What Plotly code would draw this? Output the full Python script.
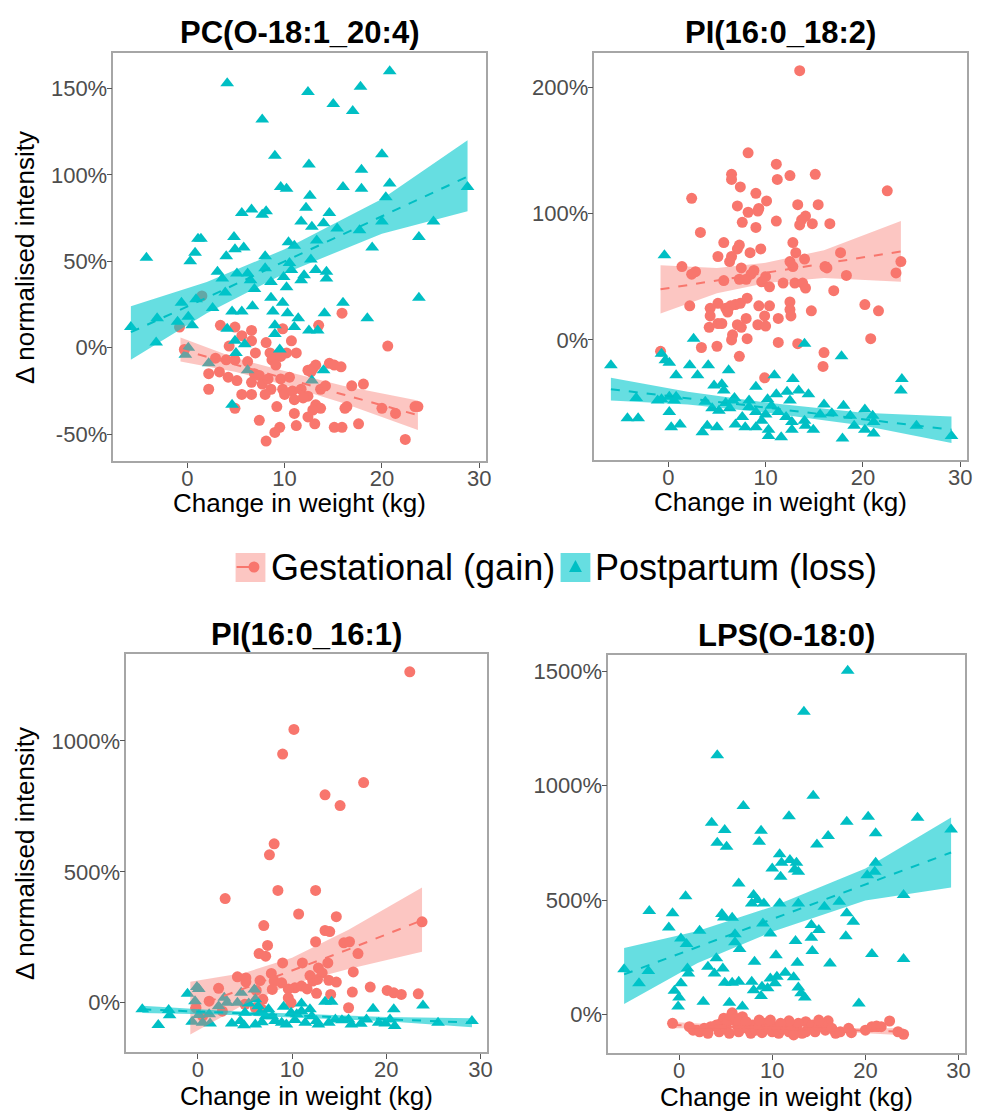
import plotly.graph_objects as go

FONT = "Liberation Sans, Arial, sans-serif"
PINK = "#F8766D"
TEAL = "#00BFC4"
PINK_BAND = "rgba(248,118,109,0.42)"
TEAL_BAND = "rgba(0,200,205,0.60)"

titles = ["PC(O-18:1_20:4)", "PI(16:0_18:2)", "PI(16:0_16:1)", "LPS(O-18:0)"]
legend_labels = ["Gestational (gain)", "Postpartum (loss)"]
x_title = "Change in weight (kg)"
y_title = "\u0394 normalised intensity"
x_ticks = [0, 10, 20, 30]
y_ticks = [[-50, 0, 50, 100, 150], [0, 100, 200], [0, 500, 1000], [0, 500, 1000, 1500]]
y_ranges = [[-65.5, 170.5], [-95, 227], [-188, 1332], [-169, 1572]]
x_range = [-7.6, 30.7]

# ---------------- Panel 1: PC(O-18:1_20:4) ----------------
p1_gest = [(15.9,20),(13.5,13),(20.6,1),(3.4,13),(4.9,12),(6.6,10),(9.8,11),(5.6,7),(6.6,4),(8.1,3),
           (4.3,1),(10.7,4),(7.0,-3),(8.5,-3),(9.4,-4),(10.2,-3),(11.2,-3),(-0.3,-1),(2.9,-6),(4.0,-7),
           (4.9,-7),(6.2,-8),(8.7,-7),(9.6,-5),(9.1,-10),(2.2,-15),(3.3,-14),(4.2,-17),(5.1,-19),(2.2,-24),
           (5.6,-27),(6.6,-27),(6.9,-15),(6.6,-20),(7.4,-16),(7.7,-21),(8.3,-18),(8.6,-24),(9.6,-18),(9.8,-24),
           (10.0,-27),(10.5,-17),(10.8,-25),(11.7,-24),(12.4,-28),(11.0,-30),(11.9,-29),(12.4,-13),(12.9,-12),
           (13.2,-10),(12.7,-14),(13.7,-24),(14.6,-9),(15.1,-10),(15.8,-11),(14.2,-22),(16.9,-22),(18.1,-21),
           (13.2,-33),(13.7,-35),(12.9,-36),(16.4,-34),(16.2,-35),(20.0,-35),(21.4,-38),(23.4,-34),(23.7,-34),
           (8.0,-27),(9.2,-34),(11.0,-38),(12.4,-40),(13.1,-44),(11.2,-45),(9.5,-46),(9.0,-49),(7.4,-42),
           (8.1,-54),(15.1,-46),(15.9,-46),(17.6,-44),(22.4,-53),(4.9,-35),(1.5,30),(-0.8,12)]
p1_post = [(20.8,160),(4.1,153),(12.4,148),(17.8,151),(15.0,141),(17.0,137),(7.7,132),(9.0,111),(12.5,106),
           (20.0,112),(17.9,103),(20.8,95),(9.6,93),(10.2,92),(12.6,88),(16.0,93),(17.9,92),(28.8,93),(20.4,87),
           (12.2,81),(5.6,78),(6.6,80),(7.7,77),(8.1,79),(14.6,78),(11.7,73),(12.8,70),(14.0,72),(15.4,69),
           (17.7,68),(20.0,73),(25.3,73),(23.8,64),(19.0,58),(1.1,63),(1.4,63),(4.8,64),(4.9,57),(5.8,58),
           (10.4,61),(11.0,59),(13.3,62),(0.8,55),(0.3,50),(-4.2,52),(4.0,53),(8.0,53),(12.7,51),(10.5,49),
           (3.1,44),(3.6,40),(5.1,43),(6.2,43),(6.5,39),(8.0,46),(10.7,45),(9.9,41),(12.0,42),(11.7,39),
           (13.2,45),(14.3,44),(14.3,40),(6.9,34),(8.6,38),(10.2,35),(3.9,32),(0.9,28),(-0.6,26),(2.6,23),
           (6.7,24),(8.6,29),(9.8,26),(16.0,26),(23.8,29),(4.6,21),(5.6,21),(8.8,21),(10.3,20),(11.4,17),
           (14.1,20),(18.5,17),(-3.1,17),(-1.0,15),(0.1,18),(0.5,13),(-5.8,12),(9.0,13),(4.1,11),(11.0,12),
           (12.5,10),(13.4,10),(9.0,8),(-3.2,3),(4.9,4),(5.9,2),(5.0,-3),(9.5,-1),(0.1,0),(-0.2,-4),(2.2,-9),
           (6.2,-13),(14.0,-13),(12.8,-19),(4.6,-33)]
p1_gest_fit_x = [-0.7, 5, 10, 16, 23.7]
p1_gest_fit_y = [-1, -10, -17.5, -27, -39]
p1_gest_lo = [-8, -14, -21.5, -32, -47.5]
p1_gest_hi = [6, -6, -13.5, -22, -30.5]
p1_post_fit_x = [-5.8, 2, 10, 20, 28.8]
p1_post_fit_y = [9, 29, 50, 76, 99]
p1_post_lo = [-7, 20, 43, 66, 79]
p1_post_hi = [24, 38, 57, 86, 120]

# ---------------- Panel 2: PI(16:0_18:2) ----------------
p2_gest = [(13.5,213),(8.2,148),(11.1,139),(12.5,130),(15.1,131),(6.5,131),(6.5,127),(11.2,127),(7.4,121),
           (22.5,118),(2.4,112),(9.0,116),(10.1,110),(7.1,106),(9.3,104),(8.2,101),(9.2,102),(13.3,107),
           (15.4,107),(14.1,98),(13.7,95),(13.5,91),(14.8,92),(16.6,92),(7.6,93),(9.0,89),(11.1,94),(3.3,85),
           (5.7,77),(7.3,75),(7.1,72),(9.5,72),(8.4,69),(12.8,77),(13.1,69),(17.7,69),(5.1,66),(6.5,66),
           (6.3,62),(14.0,64),(12.5,62),(12.8,58),(1.4,58),(2.8,54),(2.4,52),(7.5,57),(8.8,55),(8.5,52),
           (8.0,48),(10.0,50),(9.6,46),(10.4,42),(11.8,45),(13.0,45),(13.8,45),(14.1,41),(16.1,58),(16.3,57),
           (18.3,51),(23.9,62),(23.4,53),(5.7,47),(7.3,48),(17.0,39),(2.2,27),(5.1,29),(4.3,25),(5.9,25),
           (6.4,27),(6.9,28),(7.4,29),(6.1,22),(8.1,33),(8.0,17),(9.3,27),(10.4,27),(9.9,19),(12.5,30),
           (12.5,24),(12.6,19),(11.3,17),(14.7,23),(20.2,28),(21.6,23),(4.3,19),(5.1,13),(5.5,13),(7.1,12),
           (7.5,10),(9.2,12),(10.0,11),(4.2,10),(6.6,4),(6.5,0),(8.1,1),(11.3,-2),(13.3,-3),(3.4,-6),(5.0,-5),
           (7.3,-13),(20.8,1),(16.0,-10),(15.9,-21),(-0.8,-9),(9.9,-30)]
p2_post = [(-0.4,67),(2.6,1),(14.0,-3),(17.8,-13),(-5.9,-20),(-0.7,-11),(-0.3,-16),(0.1,-18),(2.2,-20),
           (4.1,-20),(6.2,-24),(0.8,-28),(3.0,-28),(10.9,-28),(12.8,-31),(24.0,-31),(23.9,-40),(4.7,-36),
           (5.5,-35),(5.7,-40),(9.0,-37),(-3.3,-46),(-1.1,-48),(-0.7,-47),(0.1,-45),(0.8,-45),(0.6,-48),
           (0.1,-57),(1.2,-67),(0.3,-69),(-4.2,-62),(-3.1,-62),(3.5,-73),(4.0,-68),(5.0,-69),(3.8,-49),
           (4.5,-54),(5.2,-56),(5.9,-50),(6.3,-54),(6.6,-48),(6.8,-46),(7.6,-61),(6.9,-67),(7.9,-69),(8.3,-53),
           (8.3,-48),(9.0,-57),(9.0,-69),(9.6,-64),(10.0,-59),(10.2,-47),(10.6,-52),(10.3,-71),(10.3,-76),
           (11.1,-43),(11.3,-57),(11.6,-77),(12.2,-41),(12.5,-48),(12.7,-65),(13.4,-40),(14.4,-43),(12.7,-71),
           (14.0,-64),(14.1,-68),(14.9,-71),(15.6,-59),(16.0,-51),(16.8,-58),(18.0,-52),(18.7,-60),(19.1,-68),
           (17.9,-78),(20.2,-55),(21.0,-60),(21.1,-65),(20.2,-71),(21.1,-74),(25.5,-68),(29.1,-76),(12.1,-61)]
p2_gest_fit_x = [-0.8, 5, 10, 16, 23.9]
p2_gest_fit_y = [40, 47, 53, 60, 70]
p2_gest_lo = [21, 37, 45, 49, 46]
p2_gest_hi = [59, 57, 61, 71, 94]
p2_post_fit_x = [-5.9, 2, 10, 20, 29.1]
p2_post_fit_y = [-39, -46, -53.5, -62.7, -71]
p2_post_lo = [-48, -51, -57.5, -67.7, -81.5]
p2_post_hi = [-30, -41, -49.5, -57.7, -60.5]

# ---------------- Panel 3: PI(16:0_16:1) ----------------
p3_gest = [(22.5,1264),(10.2,1044),(9.0,950),(17.6,841),(13.5,794),(15.1,753),(8.1,607),(7.6,565),(2.9,398),
           (8.5,429),(12.5,429),(10.7,339),(14.7,329),(7.0,295),(13.5,276),(14.0,272),(12.5,233),(15.5,229),
           (16.1,233),(23.8,309),(7.4,219),(6.5,188),(7.2,178),(17.0,188),(9.0,152),(11.1,152),(13.8,152),
           (12.8,133),(13.2,114),(16.5,118),(7.8,112),(4.2,99),(5.1,95),(5.1,80),(6.6,85),(8.1,83),(8.9,76),
           (10.3,57),(11.0,64),(11.9,104),(12.2,83),(12.7,89),(13.9,86),(14.7,79),(2.2,55),(6.2,47),(7.9,51),
           (9.6,53),(11.6,53),(18.3,60),(20.1,47),(20.8,38),(21.6,32),(23.4,34),(16.4,41),(12.6,36),(14.1,32),
           (9.6,19),(9.9,0),(16.0,-19),(1.2,6),(6.9,13),(5.0,-6),(6.1,-19),(6.8,-25),(2.6,-32),(-0.2,-19),
           (0.5,-51)]
p3_post = [(-5.9,-25),(-4.2,-85),(-3.1,-28),(-3.0,-48),(-1.1,34),(-0.1,60),(0.1,53),(-0.3,6),(-0.6,-72),
           (0.1,-47),(0.5,-76),(1.3,-79),(1.2,-44),(2.2,-13),(2.8,19),(3.1,0),(3.6,-79),(4.2,0),(4.6,38),
           (5.0,-38),(5.4,-3),(6.0,51),(6.1,13),(6.4,-13),(6.6,-38),(7.2,-51),(7.9,-51),(4.9,-86),(6.1,-83),
           (6.8,-74),(8.2,-70),(9.1,-15),(9.4,-83),(9.9,-38),(10.3,-66),(11.0,-3),(11.0,-32),(11.4,-76),
           (12.1,-51),(12.6,-70),(13.5,4),(14.2,4),(14.6,-64),(15.3,-67),(16.0,-64),(17.3,-80),(17.9,-64),
           (18.6,-23),(19.2,-76),(20.4,-64),(20.8,-25),(20.9,-89),(23.9,-10),(25.5,-76),(29.1,-70),(4.5,-70),
           (7.5,-25),(8.9,-76),(10.5,-44),(12.8,-83),(13.9,-76),(16.3,-83),(19.9,-79),(11.9,-25)]
p3_gest_fit_x = [-0.8, 5, 10, 16, 23.8]
p3_gest_fit_y = [-22, 55, 122, 204, 315]
p3_gest_lo = [-121, -5, 72, 129, 195]
p3_gest_hi = [80, 115, 172, 279, 440]
p3_post_fit_x = [-5.9, 2, 10, 20, 29.1]
p3_post_fit_y = [-25, -36.5, -48.2, -62.8, -76]
p3_post_lo = [-39, -44.5, -55.2, -70.8, -93]
p3_post_hi = [-11, -28.5, -41.2, -54.8, -59]

# ---------------- Panel 4: LPS(O-18:0) ----------------
p4_gest = [(-0.7,-39),(5.7,7),(22.6,-29),(16.0,-28),(13.6,-32),(1.5,-69),(2.2,-76),(2.7,-61),(3.4,-54),
           (4.3,-76),(4.5,-39),(5.0,-61),(5.4,-83),(5.9,-25),(6.3,-54),(6.4,-76),(6.8,-10),(7.0,-39),(7.3,-61),
           (7.7,-83),(7.9,-47),(8.2,-69),(8.6,-54),(8.9,-80),(9.3,-39),(9.6,-61),(10.0,-76),(10.4,-54),
           (10.7,-83),(11.1,-61),(11.4,-47),(11.8,-76),(12.1,-54),(12.5,-69),(12.8,-39),(13.2,-83),(13.9,-61),
           (14.3,-47),(14.6,-76),(15.0,-54),(15.3,-39),(15.7,-69),(16.4,-61),(16.8,-83),(17.3,-76),(18.2,-61),
           (18.5,-80),(20.0,-69),(20.7,-54),(21.2,-51),(21.7,-54),(23.5,-76),(24.1,-87),(4.8,-17),(5.2,-32),
           (5.6,-7),(6.1,-17),(6.4,-32),(4.0,-47),(3.1,-83),(1.1,-54),(9.8,-25),(11.8,-28),(15.0,-25),
           (8.6,-25),(7.2,-32),(10.9,-39),(12.3,-90),(13.6,-76)]
p4_post = [(18.1,1503),(13.4,1324),(4.1,1134),(14.4,956),(6.9,911),(11.8,867),(3.5,838),(4.9,806),(4.1,751),
           (5.1,733),(8.8,803),(8.6,755),(18.0,843),(20.3,864),(21.1,792),(25.6,860),(29.2,809),(16.0,780),
           (14.8,743),(10.8,700),(11.0,663),(11.9,675),(12.6,663),(10.0,638),(10.9,602),(12.4,634),(12.8,624),
           (21.1,663),(20.2,609),(21.0,624),(6.4,573),(0.7,517),(-3.2,452),(-0.7,442),(-1.1,380),(8.0,522),
           (7.8,485),(8.4,500),(9.1,485),(10.8,485),(12.8,485),(15.6,471),(17.2,493),(24.1,522),(4.6,439),
           (4.8,424),(5.7,423),(18.0,442),(18.7,405),(14.2,391),(15.0,369),(2.2,366),(0.2,332),(0.8,308),
           (6.0,351),(6.0,315),(6.5,286),(9.8,354),(9.0,398),(12.5,321),(14.2,335),(14.3,277),(17.9,342),
           (20.7,264),(24.1,242),(10.4,259),(12.7,226),(16.2,223),(8.1,230),(4.0,245),(3.1,208),(4.7,201),
           (3.8,179),(0.9,201),(1.0,179),(-5.9,197),(-4.3,136),(-3.3,190),(0.2,136),(-0.5,103),(0.0,74),
           (-0.1,34),(4.9,138),(5.7,138),(6.4,143),(7.8,143),(8.0,106),(8.9,121),(9.5,114),(8.8,80),(9.8,157),
           (10.5,165),(11.4,182),(10.3,136),(12.3,162),(12.8,118),(13.1,92),(13.5,74),(6.8,34),(5.4,51),
           (2.6,55),(19.3,48)]
p4_gest_fit_x = [-0.7, 5, 10, 16, 24.1]
p4_gest_fit_y = [-47, -53.7, -59.5, -66.5, -76]
p4_gest_lo = [-61, -60.7, -65.5, -73.5, -91]
p4_gest_hi = [-33, -46.7, -53.5, -59.5, -61]
p4_post_fit_x = [-5.9, 2, 10, 20, 29.2]
p4_post_fit_y = [175, 295, 416, 568, 708]
p4_post_lo = [45, 225, 361, 498, 555]
p4_post_hi = [290, 365, 471, 638, 861]

panels = [
    (p1_gest, p1_post, (p1_gest_fit_x, p1_gest_fit_y, p1_gest_lo, p1_gest_hi),
     (p1_post_fit_x, p1_post_fit_y, p1_post_lo, p1_post_hi)),
    (p2_gest, p2_post, (p2_gest_fit_x, p2_gest_fit_y, p2_gest_lo, p2_gest_hi),
     (p2_post_fit_x, p2_post_fit_y, p2_post_lo, p2_post_hi)),
    (p3_gest, p3_post, (p3_gest_fit_x, p3_gest_fit_y, p3_gest_lo, p3_gest_hi),
     (p3_post_fit_x, p3_post_fit_y, p3_post_lo, p3_post_hi)),
    (p4_gest, p4_post, (p4_gest_fit_x, p4_gest_fit_y, p4_gest_lo, p4_gest_hi),
     (p4_post_fit_x, p4_post_fit_y, p4_post_lo, p4_post_hi)),
]

# the page body has an 8px margin; size the figure so it fits the window
OFF = 8
W, H = 981 - OFF, 1111 - OFF
# plot-area boxes in window pixels (left, right, top, bottom)
boxes = [(114, 489, 53, 461), (598, 973, 53, 460), (127, 490, 654, 1052), (612, 971, 655, 1053)]
x_title_gap = [42, 42, 44, 44]

def fx(px):
    return (px - OFF) / W

def fy(py):
    return 1 - (py - OFF) / H

fig = go.Figure()
annotations = []
shapes = []
axes_layout = {}

for i, (gest, post, gfit, pfit) in enumerate(panels):
    n = i + 1
    xa = "x" if n == 1 else f"x{n}"
    ya = "y" if n == 1 else f"y{n}"
    l, r, t, b = boxes[i]
    axis_common = dict(showgrid=False, zeroline=False, showline=True, mirror=True,
                       linecolor="#a6a6a6", linewidth=1.5, ticks="outside", ticklen=5,
                       tickcolor="#555555", tickwidth=1,
                       tickfont=dict(size=22, color="#4d4d4d", family=FONT))
    axes_layout["xaxis" if n == 1 else f"xaxis{n}"] = dict(
        domain=[fx(l), fx(r)], anchor=ya, range=x_range, tickmode="array", tickvals=x_ticks,
        ticktext=[str(v) for v in x_ticks], **axis_common)
    axes_layout["yaxis" if n == 1 else f"yaxis{n}"] = dict(
        domain=[fy(b), fy(t)], anchor=xa, range=y_ranges[i], tickmode="array", tickvals=y_ticks[i],
        ticktext=[f"{v}%" for v in y_ticks[i]], **axis_common)

    # points
    fig.add_trace(go.Scatter(x=[p[0] for p in gest], y=[p[1] for p in gest], mode="markers",
                             marker=dict(symbol="circle", size=11, color=PINK),
                             xaxis=xa, yaxis=ya, hoverinfo="skip"))
    fig.add_trace(go.Scatter(x=[p[0] for p in post], y=[p[1] for p in post], mode="markers",
                             marker=dict(symbol="triangle-up", size=12, color=TEAL),
                             xaxis=xa, yaxis=ya, hoverinfo="skip"))
    # confidence bands
    for (fxs, fys, lo, hi), band in ((gfit, PINK_BAND), (pfit, TEAL_BAND)):
        fig.add_trace(go.Scatter(x=list(fxs) + list(fxs)[::-1], y=list(hi) + list(lo)[::-1],
                                 mode="lines", fill="toself", fillcolor=band,
                                 line=dict(width=0, color=band), xaxis=xa, yaxis=ya,
                                 hoverinfo="skip"))
    # fitted lines
    for (fxs, fys, lo, hi), col in ((gfit, PINK), (pfit, TEAL)):
        fig.add_trace(go.Scatter(x=fxs, y=fys, mode="lines",
                                 line=dict(color=col, width=2, dash="dash"),
                                 xaxis=xa, yaxis=ya, hoverinfo="skip"))

    cx = (l + r) / 2
    annotations.append(dict(text="<b>" + titles[i] + "</b>", x=fx(cx), y=fy(t - 20),
                            xref="paper", yref="paper", showarrow=False,
                            xanchor="center", yanchor="middle",
                            font=dict(size=31, color="black", family=FONT)))
    annotations.append(dict(text=x_title, x=fx(cx), y=fy(b + x_title_gap[i]), xref="paper", yref="paper",
                            showarrow=False, xanchor="center", yanchor="middle",
                            font=dict(size=26, color="black", family=FONT)))
    if n in (1, 3):
        annotations.append(dict(text=y_title, x=fx(25), y=fy((t + b) / 2), xref="paper", yref="paper",
                                showarrow=False, xanchor="center", yanchor="middle", textangle=-90,
                                font=dict(size=26, color="black", family=FONT)))

# legend keys drawn as shapes in paper coordinates
leg_y = 567
shapes.append(dict(type="rect", xref="paper", yref="paper", x0=fx(237), x1=fx(267),
                   y0=fy(582), y1=fy(553), fillcolor=PINK_BAND, line=dict(width=0)))
shapes.append(dict(type="rect", xref="paper", yref="paper", x0=fx(564), x1=fx(594),
                   y0=fy(582), y1=fy(553), fillcolor=TEAL_BAND, line=dict(width=0)))
shapes.append(dict(type="line", xref="paper", yref="paper", x0=fx(238), x1=fx(255),
                   y0=fy(leg_y), y1=fy(leg_y), line=dict(color=PINK, width=2)))
shapes.append(dict(type="circle", xref="paper", yref="paper", x0=fx(250), x1=fx(261),
                   y0=fy(leg_y + 5.5), y1=fy(leg_y - 5.5), fillcolor=PINK, line=dict(width=0)))
shapes.append(dict(type="path", xref="paper", yref="paper",
                   path="M {:.5f} {:.5f} L {:.5f} {:.5f} L {:.5f} {:.5f} Z".format(
                       fx(572.5), fy(leg_y + 5), fx(585.5), fy(leg_y + 5), fx(579), fy(leg_y - 7)),
                   fillcolor=TEAL, line=dict(width=0)))
annotations.append(dict(text=legend_labels[0], x=fx(271), y=fy(leg_y), xref="paper", yref="paper",
                        showarrow=False, xanchor="left", yanchor="middle",
                        font=dict(size=36, color="black", family=FONT)))
annotations.append(dict(text=legend_labels[1], x=fx(597), y=fy(leg_y), xref="paper", yref="paper",
                        showarrow=False, xanchor="left", yanchor="middle",
                        font=dict(size=36, color="black", family=FONT)))

fig.update_layout(width=W, height=H, margin=dict(l=0, r=0, t=0, b=0),
                  paper_bgcolor="white", plot_bgcolor="white", showlegend=False,
                  font=dict(family=FONT), annotations=annotations, shapes=shapes, **axes_layout)
# pull tick labels a little closer to the axes (ggplot-like spacing)
try:
    fig.update_xaxes(ticklabelstandoff=-8)
    fig.update_yaxes(ticklabelstandoff=-5)
except Exception:
    pass
fig.write_html("out.html")
